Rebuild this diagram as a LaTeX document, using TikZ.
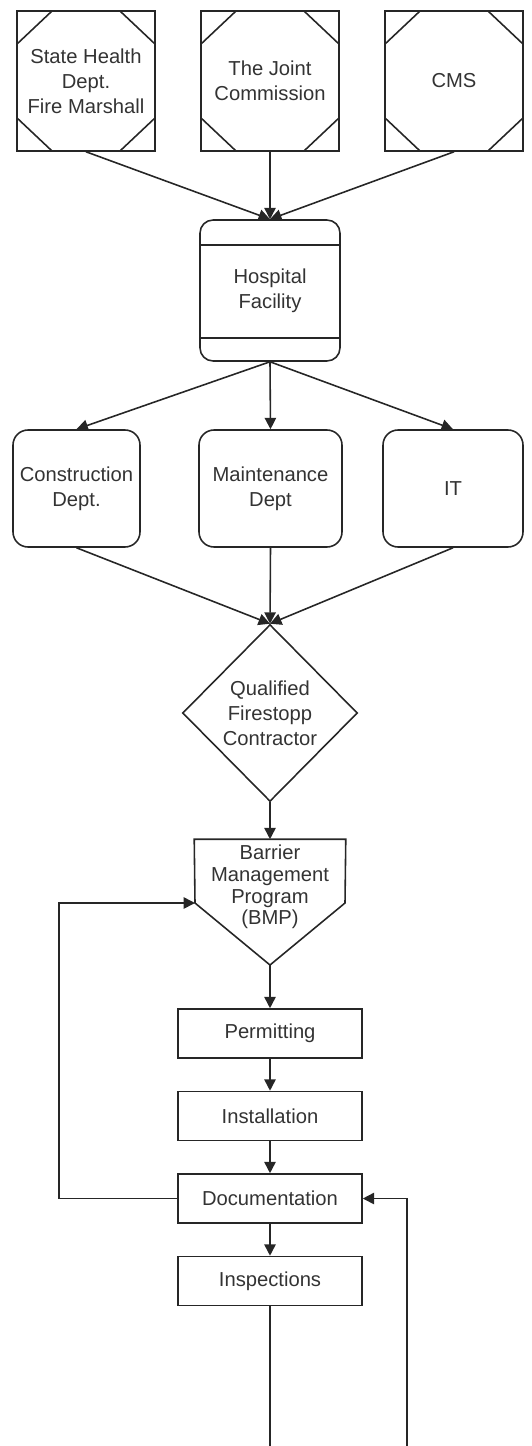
\documentclass[tikz,border=0pt]{standalone}
\usepackage{fontspec}
\setmainfont{Liberation Sans}
\usetikzlibrary{shapes.geometric,arrows.meta}
\begin{document}
\begin{tikzpicture}[x=0.02cm,y=-0.02cm,line width=0.9pt,color=black!85,
    >={Triangle[length=6.5pt,width=6.5pt]},
    every node/.style={font=\fontsize{11.5}{14.2}\selectfont,text=black!80,align=center},
    agency/.style={draw,minimum width=2.76cm,minimum height=2.8cm,inner sep=0pt,
      path picture={
        \foreach \a/\sx/\sy in {north west/1/-1,north east/-1/-1,south west/1/1,south east/-1/1}
          \draw ([yshift=\sy*0.66cm]path picture bounding box.\a) -- ([xshift=\sx*0.7cm]path picture bounding box.\a);
      }},
    facility/.style={draw,rounded corners=0.26cm,minimum width=2.8cm,minimum height=2.82cm,
      path picture={
        \draw ([yshift=-0.5cm]path picture bounding box.north west) -- ([yshift=-0.5cm]path picture bounding box.north east);
        \draw ([yshift=0.46cm]path picture bounding box.south west) -- ([yshift=0.46cm]path picture bounding box.south east);
      }},
    dept/.style={draw,rounded corners=0.3cm,minimum height=2.34cm},
    contractor/.style={draw,diamond,aspect=1,minimum width=3.5cm,minimum height=3.54cm,inner sep=0pt},
    program/.style={minimum width=3cm,minimum height=1.88cm,inner sep=0pt,font=\fontsize{11.5}{12.4}\selectfont},
    stepbox/.style={draw,minimum width=3.68cm,minimum height=0.98cm}]
  \useasboundingbox (0,0) rectangle (531,1446);
  \node[agency] (state) at (86,81) {State Health\\Dept.\\Fire Marshall};
  \node[agency] (joint) at (270,81) {The Joint\\Commission};
  \node[agency] (cms) at (454,81) {CMS};
  \node[facility] (hosp) at (270,290.5) {Hospital\\Facility};
  \node[dept,minimum width=2.54cm] (constr) at (76.5,488.5) {Construction\\Dept.};
  \node[dept,minimum width=2.86cm] (maint) at (270.5,488.5) {Maintenance\\Dept};
  \node[dept,minimum width=2.8cm] (it) at (453,488.5) {IT};
  \node[contractor] (qfc) at (270,713) {Qualified\\Firestopp\\Contractor};
  \node[program] (bmp) at (270,887) {Barrier\\Management\\Program\\(BMP)};
  \coordinate (bmpw) at (195,903);
  \coordinate (bmpe) at (345,903);
  \coordinate (bmps) at (270,965);
  \draw (bmp.north west) -- (bmp.north east) -- (bmpe) -- (bmps) -- (bmpw) -- cycle;
  \node[stepbox] (permit) at (270,1033.5) {Permitting};
  \node[stepbox] (install) at (270,1116) {Installation};
  \node[stepbox] (doc) at (270,1198.5) {Documentation};
  \node[stepbox] (insp) at (270,1281) {Inspections};
  \coordinate (loop) at (59,903);
  \coordinate (out) at (270,1446);
  \coordinate (back) at (407,1446);
  \draw[->] (state.south) -- (hosp.north);
  \draw[->] (joint.south) -- (hosp.north);
  \draw[->] (cms.south) -- (hosp.north);
  \draw[->] (hosp.south) -- (constr.north);
  \draw[->] (hosp.south) -- (maint.north);
  \draw[->] (hosp.south) -- (it.north);
  \draw[->] (constr.south) -- (qfc.north);
  \draw[->] (maint.south) -- (qfc.north);
  \draw[->] (it.south) -- (qfc.north);
  \draw[->] (qfc.south) -- (bmp.north);
  \draw[->] (bmps) -- (permit);
  \draw[->] (permit) -- (install);
  \draw[->] (install) -- (doc);
  \draw[->] (doc) -- (insp);
  \draw[->] (doc.west) -| (loop) -- (bmpw);
  \draw (insp) -- (out);
  \draw[->] (back) |- (doc.east);
\end{tikzpicture}
\end{document}
